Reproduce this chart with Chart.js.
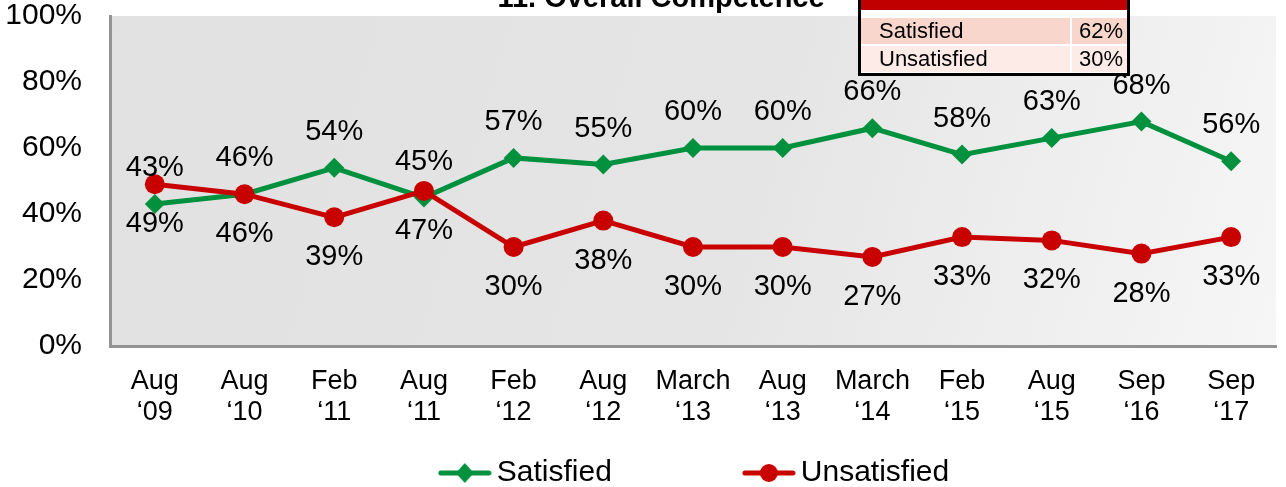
<!DOCTYPE html>
<html>
<head>
<meta charset="utf-8">
<script src="https://cdn.jsdelivr.net/npm/chart.js@4.4.1/dist/chart.umd.min.js"></script>
<style>
  html, body { margin: 0; padding: 0; background: #fff; overflow: hidden; }
  #wrap { width: 1286px; height: 487px; position: relative; }
</style>
</head>
<body>
<div id="wrap"><canvas id="competenceChart"></canvas></div>
<script>
const chartTitle = "11. Overall Competence";
const categories = [
  ["Aug", "‘09"], ["Aug", "‘10"], ["Feb", "‘11"], ["Aug", "‘11"], ["Feb", "‘12"],
  ["Aug", "‘12"], ["March", "‘13"], ["Aug", "‘13"], ["March", "‘14"], ["Feb", "‘15"],
  ["Aug", "‘15"], ["Sep", "‘16"], ["Sep", "‘17"]
];
const satisfied = [43, 46, 54, 45, 57, 55, 60, 60, 66, 58, 63, 68, 56];
const unsatisfied = [49, 46, 39, 47, 30, 38, 30, 30, 27, 33, 32, 28, 33];
const yTicks = [0, 20, 40, 60, 80, 100];
const summaryLabels = ["Satisfied", "Unsatisfied"];
const summaryValues = [62, 30];

const GREEN = "#00913f";
const RED = "#c80000";
const FONT = "'Liberation Sans', Arial, sans-serif";
const LEFT_PAD = -19;

// legend icon: line with marker, drawn at the right side of a wide transparent canvas
function legendIcon(color, shape) {
  const c = document.createElement("canvas");
  c.width = 184;
  c.height = 24;
  const g = c.getContext("2d");
  const x0 = c.width - 54;
  g.strokeStyle = color;
  g.lineWidth = 5;
  g.lineCap = "round";
  g.beginPath();
  g.moveTo(x0 + 3, 12);
  g.lineTo(c.width - 3, 12);
  g.stroke();
  g.fillStyle = color;
  const cx = x0 + 27;
  g.beginPath();
  if (shape === "diamond") {
    g.moveTo(cx, 2);
    g.lineTo(cx + 9, 12);
    g.lineTo(cx, 22);
    g.lineTo(cx - 9, 12);
    g.closePath();
  } else {
    g.arc(cx, 12, 9, 0, Math.PI * 2);
  }
  g.fill();
  return c;
}
const legendIcons = [legendIcon(GREEN, "diamond"), legendIcon(RED, "circle")];

const plotBackground = {
  id: "plotBackground",
  beforeDraw(chart) {
    const { ctx, chartArea: a } = chart;
    const grad = ctx.createLinearGradient(a.left, a.top, a.right, a.bottom);
    grad.addColorStop(0, "#e1e1e1");
    grad.addColorStop(0.55, "#e5e5e5");
    grad.addColorStop(1, "#f6f6f6");
    ctx.save();
    ctx.fillStyle = grad;
    ctx.fillRect(a.left, a.top, a.right - a.left, a.bottom - a.top);
    ctx.restore();
  }
};

const valueLabels = {
  id: "valueLabels",
  afterDatasetsDraw(chart) {
    const { ctx } = chart;
    ctx.save();
    ctx.font = "29px " + FONT;
    ctx.fillStyle = "#000";
    ctx.textAlign = "center";
    ctx.textBaseline = "middle";
    chart.data.datasets.forEach((ds, i) => {
      const meta = chart.getDatasetMeta(i);
      meta.data.forEach((pt, j) => {
        ctx.fillText(ds.data[j] + "%", pt.x, pt.y + ds.labelOffset);
      });
    });
    ctx.restore();
  }
};

const titleAndTable = {
  id: "titleAndTable",
  afterDraw(chart) {
    const { ctx } = chart;
    ctx.save();
    ctx.font = "bold 29px " + FONT;
    ctx.fillStyle = "#000";
    ctx.textAlign = "center";
    ctx.textBaseline = "alphabetic";
    ctx.fillText(chartTitle, 661, 7);

    // summary table
    const left = 860, right = 1128, split = 1070;
    ctx.fillStyle = "#fff";
    ctx.fillRect(left, 0, right - left, 75);
    ctx.fillStyle = "#c00000";
    ctx.fillRect(left, 0, right - left, 10);
    const rowTop = [18, 46];
    const rowFill = ["#f8d6cc", "#fcebe7"];
    ctx.font = "22px " + FONT;
    ctx.textBaseline = "middle";
    summaryLabels.forEach((label, i) => {
      ctx.fillStyle = rowFill[i];
      ctx.fillRect(left, rowTop[i], split - left, 26);
      ctx.fillRect(split + 2, rowTop[i], right - split - 2, 26);
      ctx.fillStyle = "#000";
      ctx.textAlign = "left";
      ctx.fillText(label, 879, rowTop[i] + 14);
      ctx.textAlign = "right";
      ctx.fillText(summaryValues[i] + "%", 1123, rowTop[i] + 14);
    });
    ctx.strokeStyle = "#000";
    ctx.lineWidth = 3;
    ctx.beginPath();
    ctx.moveTo(left - 0.5, -2);
    ctx.lineTo(left - 0.5, 74.5);
    ctx.lineTo(right + 0.5, 74.5);
    ctx.lineTo(right + 0.5, -2);
    ctx.stroke();
    ctx.restore();
  }
};

new Chart(document.getElementById("competenceChart"), {
  type: "line",
  data: {
    labels: categories,
    datasets: [
      {
        label: "Satisfied",
        data: satisfied,
        borderColor: GREEN,
        backgroundColor: GREEN,
        borderWidth: 5,
        pointStyle: "rectRot",
        pointRadius: 10,
        pointBorderWidth: 0,
        pointBackgroundColor: GREEN,
        tension: 0,
        order: 1,
        labelOffset: -36
      },
      {
        label: "Unsatisfied",
        data: unsatisfied,
        borderColor: RED,
        backgroundColor: RED,
        borderWidth: 5,
        pointStyle: "circle",
        pointRadius: 10,
        pointBorderWidth: 0,
        pointBackgroundColor: RED,
        tension: 0,
        order: 0,
        labelOffset: 40
      }
    ]
  },
  options: {
    responsive: true,
    maintainAspectRatio: false,
    animation: false,
    layout: { padding: { top: 16, left: LEFT_PAD, right: 0, bottom: -11 } },
    scales: {
      x: {
        offset: true,
        grid: { display: false, drawTicks: false },
        border: { display: true, color: "#939393", width: 3 },
        ticks: {
          color: "#000",
          font: { family: FONT, size: 27, lineHeight: 1.15 },
          padding: 20,
          maxRotation: 0,
          autoSkip: false
        },
        afterFit(scale) { scale.height = 102; }
      },
      y: {
        min: 0,
        max: 100,
        afterBuildTicks(scale) { scale.ticks = yTicks.map((v) => ({ value: v })); },
        grid: { display: false, drawTicks: true, tickLength: 28 },
        border: { display: true, color: "#939393", width: 3 },
        ticks: {
          color: "#000",
          font: { family: FONT, size: 30, lineHeight: 1.0 },
          padding: 0,
          callback: (v) => v + "%"
        },
        afterFit(scale) { scale.width = 110 - LEFT_PAD; }
      }
    },
    plugins: {
      legend: {
        position: "bottom",
        labels: {
          usePointStyle: true,
          pointStyleWidth: 164,
          padding: 10,
          color: "#000",
          font: { family: FONT, size: 30 },
          sort: (a, b) => a.datasetIndex - b.datasetIndex,
          generateLabels(chart) {
            const items = Chart.defaults.plugins.legend.labels.generateLabels(chart);
            items.forEach((item) => { item.pointStyle = legendIcons[item.datasetIndex]; });
            return items;
          }
        }
      },
      tooltip: { enabled: false }
    }
  },
  plugins: [plotBackground, valueLabels, titleAndTable]
});
</script>
</body>
</html>
